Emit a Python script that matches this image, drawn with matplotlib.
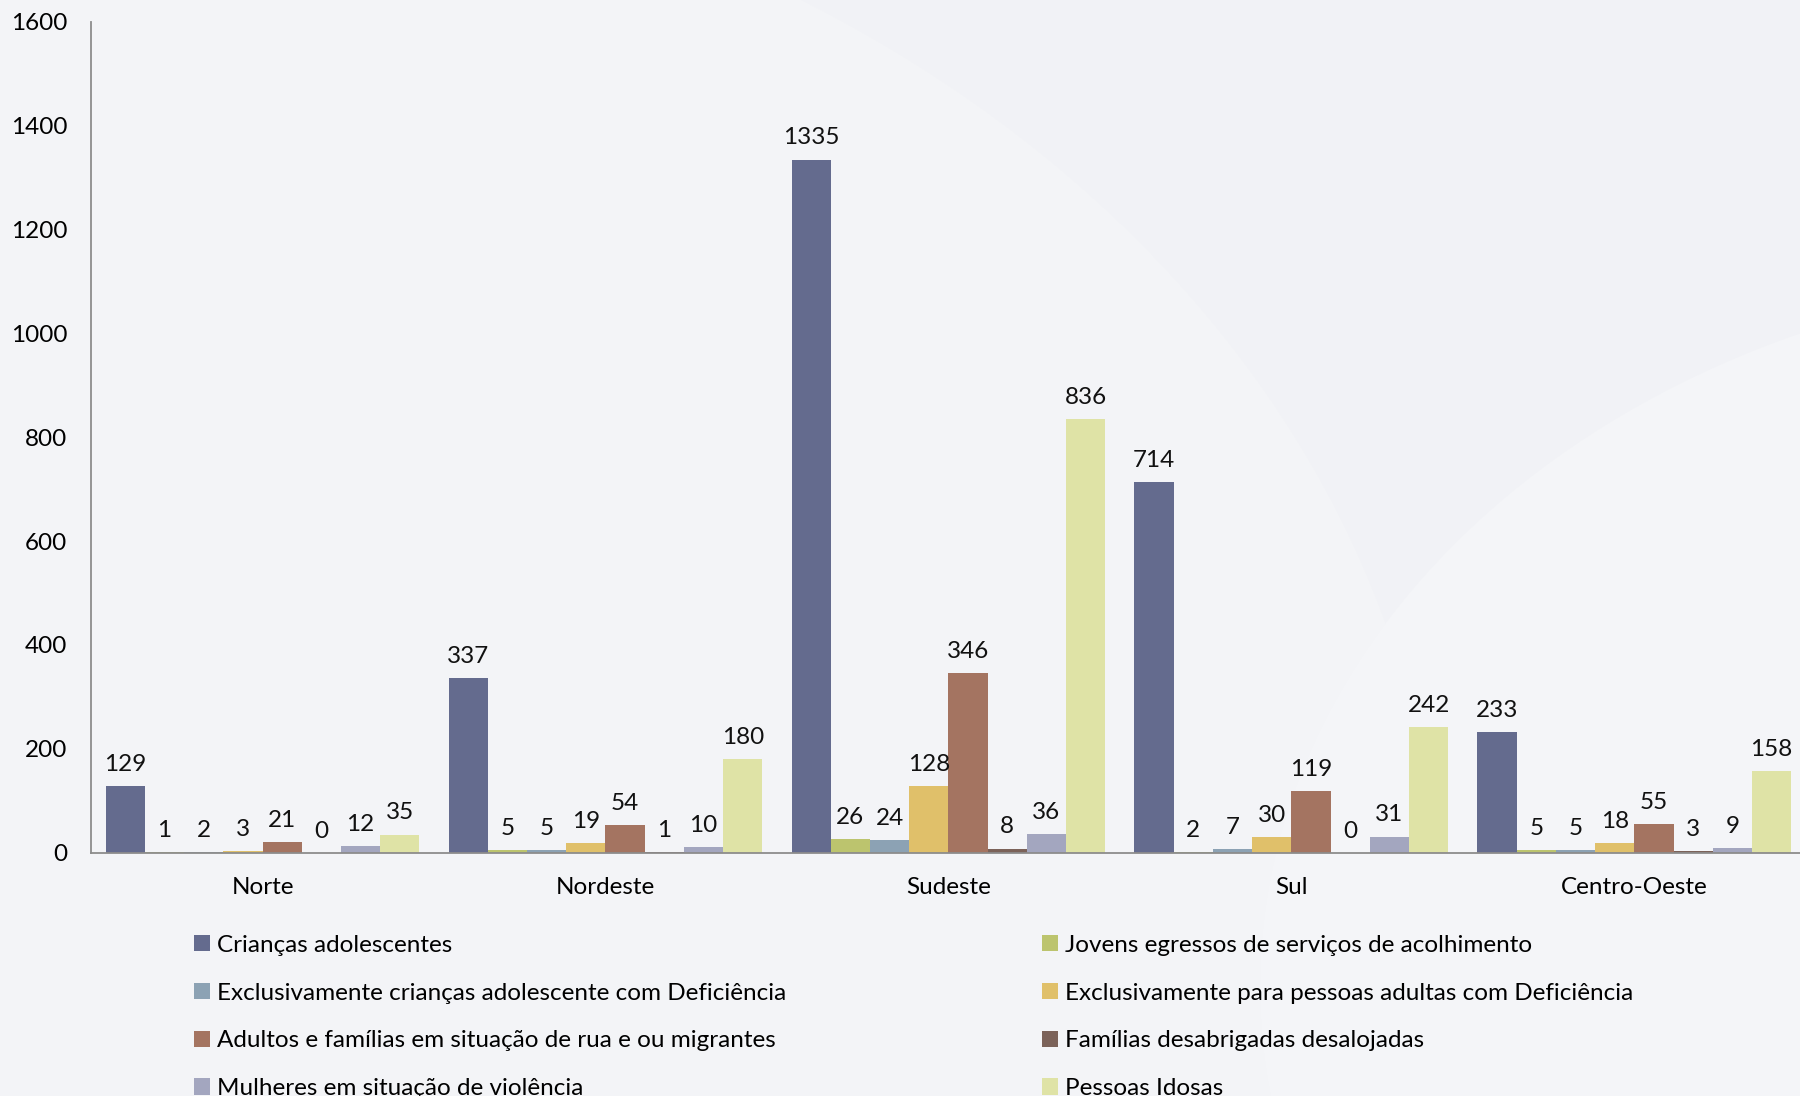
import numpy as np
import matplotlib
matplotlib.use("Agg")
import matplotlib.pyplot as plt
from matplotlib.patches import Ellipse, Patch

# Dados
regioes = ["Norte", "Nordeste", "Sudeste", "Sul", "Centro-Oeste"]
series = [
    "Crianças adolescentes",
    "Jovens egressos de serviços de acolhimento",
    "Exclusivamente crianças adolescente com Deficiência",
    "Exclusivamente para pessoas adultas com Deficiência",
    "Adultos e famílias em situação de rua e ou migrantes",
    "Famílias desabrigadas desalojadas",
    "Mulheres em situação de violência",
    "Pessoas Idosas",
]
criancas = [129, 337, 1335, 714, 233]
jovens = [1, 5, 26, 2, 5]
excl_criancas = [2, 5, 24, 7, 5]
excl_adultos = [3, 19, 128, 30, 18]
adultos_rua = [21, 54, 346, 119, 55]
familias = [0, 1, 8, 0, 3]
mulheres = [12, 10, 36, 31, 9]
idosas = [35, 180, 836, 242, 158]
valores = [criancas, jovens, excl_criancas, excl_adultos,
           adultos_rua, familias, mulheres, idosas]
cores = ["#646B8E", "#BCC46E", "#8CA2B4", "#E0C06A",
         "#A47461", "#7B6259", "#A3A6BF", "#DFE3A6"]

plt.rcParams['font.family'] = ['Lato', 'DejaVu Sans']
fs = 17.5

fig = plt.figure(figsize=(18, 10.96), dpi=100)
fig.patch.set_facecolor("#F1F2F6")

# fundo com arcos suaves
fig.patches.append(Ellipse((0.05, 0.15), 1.5, 2.0, transform=fig.transFigure,
                           facecolor="#F3F4F7", edgecolor="none", zorder=-10))
fig.patches.append(Ellipse((1.2, 0.1), 1.0, 1.3, transform=fig.transFigure,
                           facecolor="#F4F5F8", edgecolor="none", zorder=-10))

ax = fig.add_axes([0.0506, 0.222, 0.9526, 0.758])
ax.set_zorder(1)
ax.set_facecolor("none")

x = np.arange(len(regioes))
n = len(series)
largura = 0.915 / n
for i, (nome, vals, cor) in enumerate(zip(series, valores, cores)):
    pos = x - 0.4575 + largura * (i + 0.5)
    barras = ax.bar(pos, vals, width=largura, color=cor, label=nome)
    for b, v in zip(barras, vals):
        ax.annotate(str(v), (b.get_x() + b.get_width() / 2, v),
                    xytext=(0, 8), textcoords="offset points",
                    ha="center", va="bottom", fontsize=fs, color="#111111")

ax.set_xlim(-0.5, 4.5)
ax.set_ylim(0, 1600)
ax.set_yticks(range(0, 1601, 200))
ax.set_xticks(x)
ax.set_xticklabels(regioes)
ax.tick_params(axis="y", length=0, pad=17, labelsize=fs)
ax.tick_params(axis="x", length=0, pad=17.5, labelsize=fs)
for s in ["top", "right"]:
    ax.spines[s].set_visible(False)
ax.spines["left"].set_color("#8C8C8C")
ax.spines["bottom"].set_color("#8C8C8C")
ax.spines["left"].set_linewidth(1.3)
ax.spines["bottom"].set_linewidth(1.3)

# legenda em duas colunas (ordem por linha)
handles = [Patch(facecolor=c, label=s) for s, c in zip(series, cores)]
kw = dict(frameon=False, fontsize=fs, handlelength=0.65, handleheight=0.65,
          handletextpad=0.3, labelspacing=1.1, loc="upper left",
          borderaxespad=0, borderpad=0)
fig.legend(handles=handles[0::2], bbox_to_anchor=(0.108, 0.147), **kw)
fig.legend(handles=handles[1::2], bbox_to_anchor=(0.579, 0.147), **kw)

fig.savefig("out.png", dpi=100, facecolor=fig.get_facecolor())
